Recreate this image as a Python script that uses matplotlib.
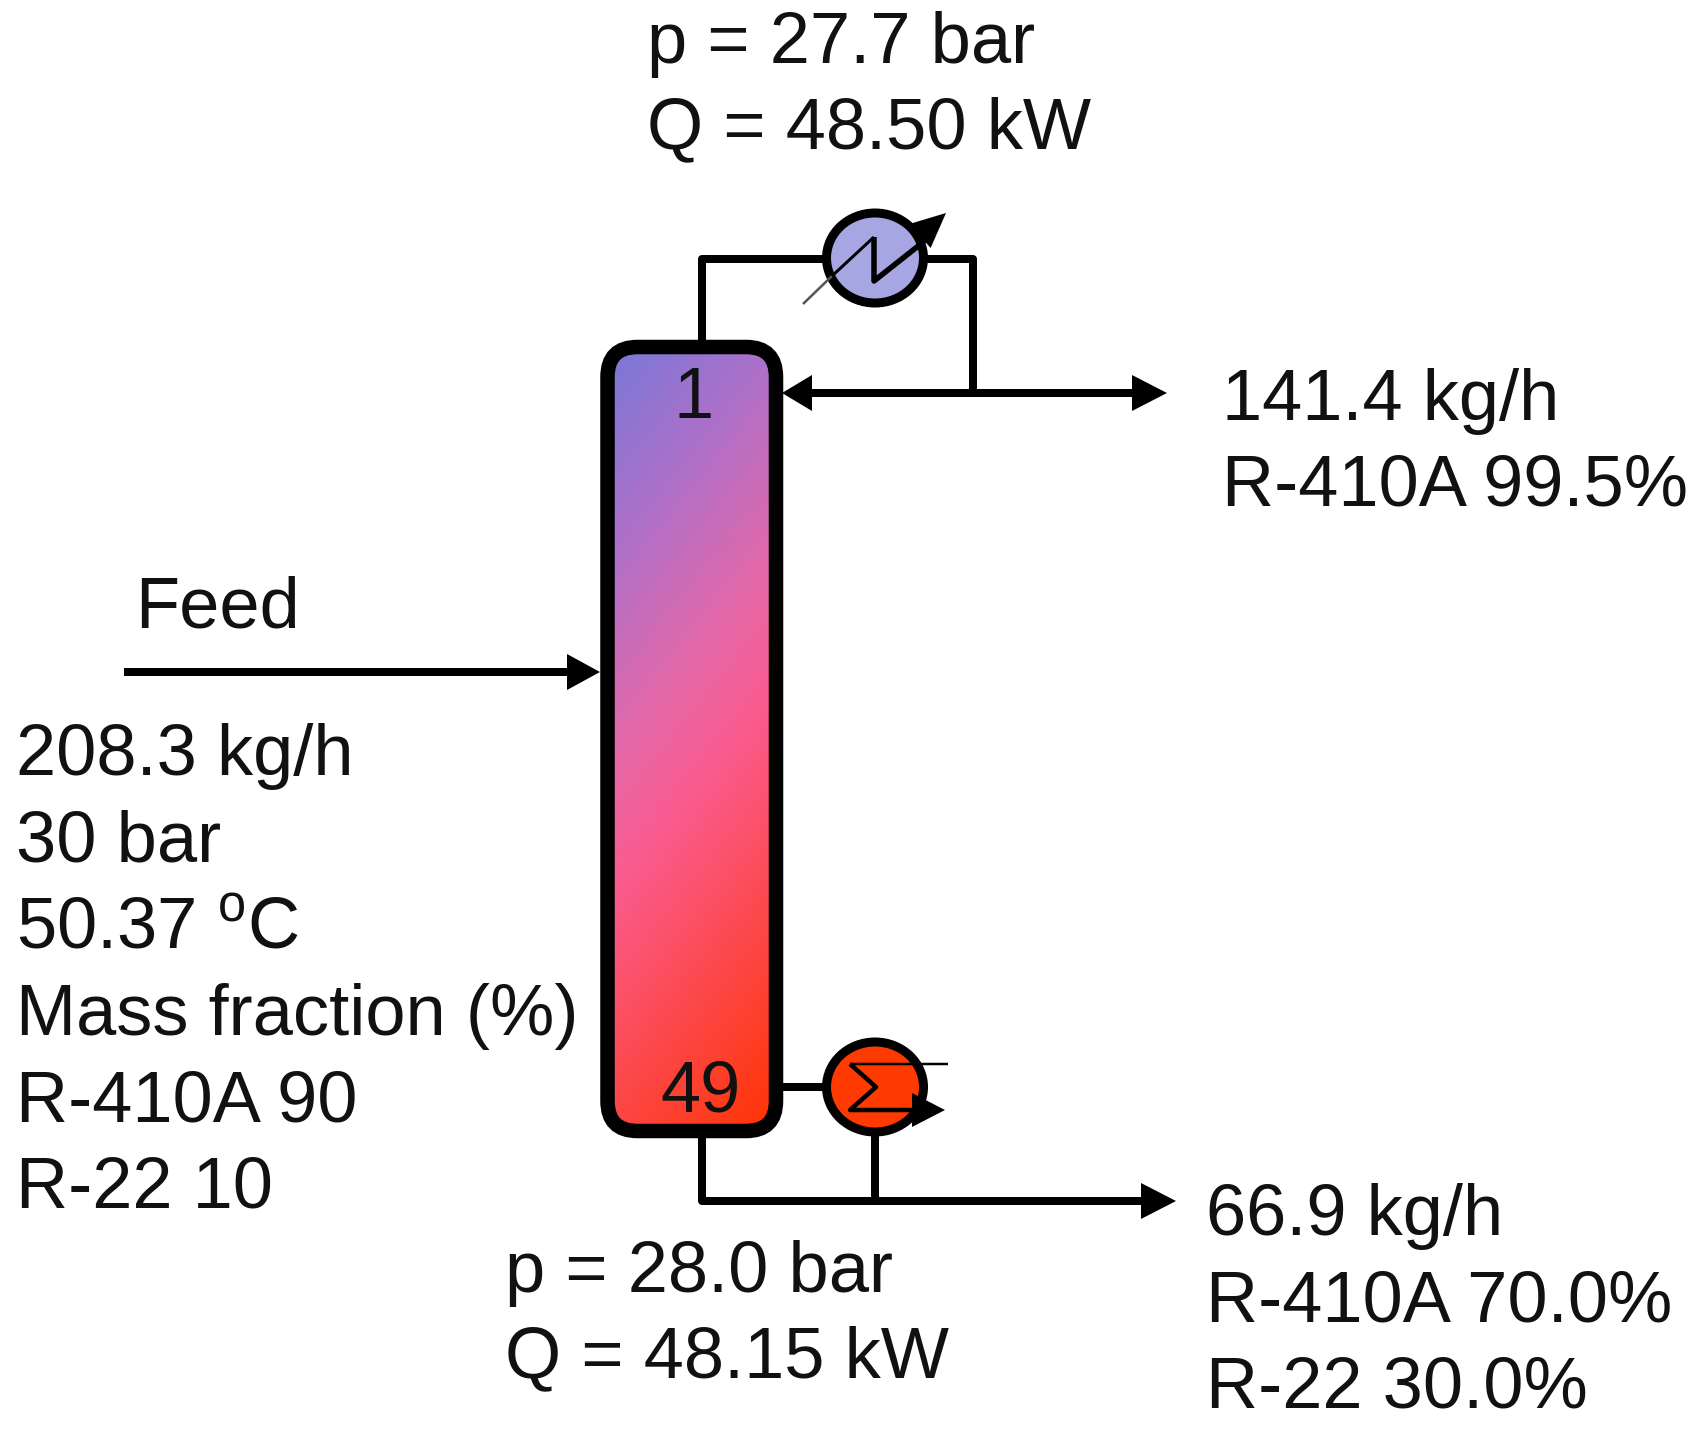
""" Distillation column flow sheet, drawn in pixel coordinates of the picture """
import numpy as np
import matplotlib
matplotlib.use('Agg')
import matplotlib.pyplot as plt
from matplotlib.colors import LinearSegmentedColormap
from matplotlib.patches import Ellipse, FancyBboxPatch, Polygon

plt.rcParams['font.family'] = ['Liberation Sans', 'DejaVu Sans']
plt.rcParams['mathtext.fontset'] = 'custom'
plt.rcParams['mathtext.rm'] = 'Liberation Sans'

WIDTH, HEIGHT = 1697, 1431

# Stream labels
top_labels = ['p = 27.7 bar', 'Q = 48.50 kW']
distillate_labels = ['141.4 kg/h', 'R-410A 99.5%']
feed_title = 'Feed'
feed_labels = ['208.3 kg/h', '30 bar', '50.37 $^{\\mathrm{o}}$C',
               'Mass fraction (%)', 'R-410A 90', 'R-22 10']
bottom_labels = ['p = 28.0 bar', 'Q = 48.15 kW']
residue_labels = ['66.9 kg/h', 'R-410A 70.0%', 'R-22 30.0%']
stage_labels = ['1', '49']

# Colours of the column gradient and the two heat exchangers
column_stops = [0, 0.22, 0.42, 0.55, 1]
column_colors = ['#7878D8', '#B070C8', '#E468A8', '#FA5C90', '#FF3300']
condenser_color = '#A6A6E2'
reboiler_color = '#FF3A00'

FONT_SIZE = 52


def px(width):
    """ Converts a width in pixels to points """
    return width * 0.72


def pipe(ax, xs, ys, width=8, color='black', cap='butt', zorder=3):
    """ Draws a pipe as a polyline """
    ax.plot(xs, ys, color=color, lw=px(width), solid_joinstyle='round',
            solid_capstyle=cap, zorder=zorder)


def head(ax, tip, base, half):
    """ Draws a filled arrow head from the centre of its base to its tip """
    tip = np.array(tip, dtype=float)
    base = np.array(base, dtype=float)
    along = tip - base
    normal = np.array([-along[1], along[0]]) / np.hypot(*along) * half
    ax.add_patch(Polygon([tip, base + normal, base - normal], closed=True,
                         color='black', lw=0, zorder=5))


def labels(ax, lines, x, first_baseline, spacing):
    """ Writes a block of lines, one below the other """
    for i, line in enumerate(lines):
        ax.text(x, first_baseline + i * spacing, line, fontsize=FONT_SIZE,
                ha='left', va='baseline', color='#111111', zorder=6)


fig = plt.figure(figsize=(WIDTH / 100, HEIGHT / 100), dpi=100)
ax = fig.add_axes([0, 0, 1, 1])

# Column body with a diagonal gradient, clipped to the rounded outline
column = FancyBboxPatch((607.5, 347), 168.5, 784,
                        boxstyle='round,pad=0,rounding_size=30',
                        fc='none', ec='black', lw=px(14.5), zorder=4)
ax.add_patch(column)
grid_x, grid_y = np.meshgrid(np.linspace(0, 1, 200), np.linspace(0, 1, 800))
cmap = LinearSegmentedColormap.from_list('column',
                                         list(zip(column_stops, column_colors)))
image = ax.imshow(0.21 * grid_x + 0.79 * grid_y, cmap=cmap, vmin=0, vmax=1,
                  extent=(607.5, 776, 1131, 347), aspect='auto', zorder=2)
image.set_clip_path(column)
ax.set_xlim(0, WIDTH)
ax.set_ylim(HEIGHT, 0)
ax.axis('off')

# Overhead loop and products
pipe(ax, [702, 702, 825], [347, 259, 259])
pipe(ax, [925, 973, 973], [259, 259, 393])
pipe(ax, [805, 1140], [393, 393])
head(ax, (782, 393), (812, 393), 18)
head(ax, (1167, 393), (1132, 393), 18)

# Feed
pipe(ax, [124, 575], [672, 672])
head(ax, (600, 672), (567, 672), 18)

# Condenser
ax.add_patch(Ellipse((875, 258), 97, 90, fc=condenser_color, ec='black',
                     lw=px(9), zorder=3))
pipe(ax, [803, 832], [304, 276], width=2.5, color='#555555')
pipe(ax, [832, 874], [276, 237], width=3, zorder=4)
pipe(ax, [874, 874, 922, 935], [237, 281, 243, 228], width=5.5, zorder=4)
head(ax, (946, 213), (920, 236), 16)

# Reboiler and bottom product
pipe(ax, [783, 825], [1087, 1087])
pipe(ax, [702, 702, 1150], [1138, 1201, 1201])
pipe(ax, [875, 875], [1135, 1201])
head(ax, (1176, 1201), (1141, 1201), 18)
ax.add_patch(Ellipse((875, 1087), 97, 90, fc=reboiler_color, ec='black',
                     lw=px(9), zorder=3))
pipe(ax, [850, 948], [1064, 1064], width=2.5, zorder=4)
pipe(ax, [850, 876, 850, 920], [1064, 1087, 1110, 1110], width=4.5, zorder=4)
head(ax, (945, 1110), (912, 1110), 17)

# Text
labels(ax, top_labels, 647, 63, 85)
labels(ax, distillate_labels, 1222, 420, 86)
ax.text(135, 628, feed_title, fontsize=FONT_SIZE, ha='left', va='baseline',
        color='#111111')
labels(ax, feed_labels, 16, 775, 86.5)
labels(ax, bottom_labels, 505, 1292, 85)
labels(ax, residue_labels, 1206, 1235, 86)
ax.text(694, 418, stage_labels[0], fontsize=FONT_SIZE, ha='center',
        va='baseline', color='#111111', zorder=6)
ax.text(700, 1112, stage_labels[1], fontsize=FONT_SIZE, ha='center',
        va='baseline', color='#111111', zorder=6)

fig.savefig('out.png', dpi=100)
